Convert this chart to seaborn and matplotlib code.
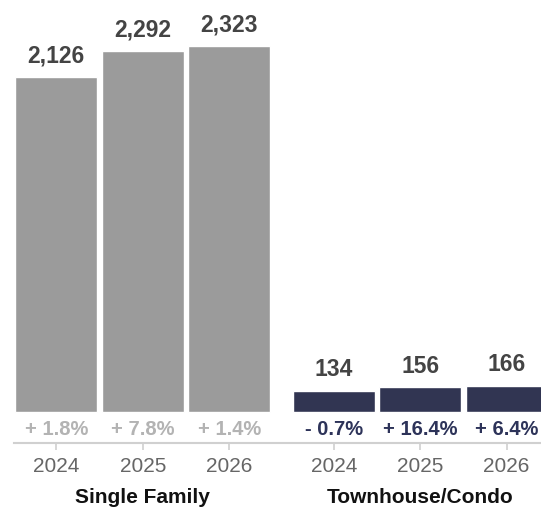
import matplotlib
matplotlib.use("Agg")
import matplotlib.pyplot as plt
import numpy as np
import pandas as pd
import seaborn as sns

years = ["2024", "2025", "2026"]
groups = ["Single Family", "Townhouse/Condo"]
single_family = [2126, 2292, 2323]
townhouse_condo = [134, 156, 166]
sf_change = ["+ 1.8%", "+ 7.8%", "+ 1.4%"]
tc_change = ["- 0.7%", "+ 16.4%", "+ 6.4%"]

bar_colors = {"Single Family": "#9b9b9b", "Townhouse/Condo": "#2b3157"}
change_colors = {"Single Family": "#b3b3b3", "Townhouse/Condo": "#2d3359"}

# positions: second group sits a bit further away than one slot
group_offset = {"Single Family": 0.0, "Townhouse/Condo": 3.21}

rows = []
for g, vals, chg in [(groups[0], single_family, sf_change), (groups[1], townhouse_condo, tc_change)]:
    for i, (yr, v, c) in enumerate(zip(years, vals, chg)):
        rows.append({"group": g, "year": yr, "value": v, "change": c, "pos": i + group_offset[g]})
df = pd.DataFrame(rows)

sns.set_theme(style="white")
plt.rcParams["font.family"] = ["Liberation Sans", "DejaVu Sans"]

fig = plt.figure(figsize=(5.41, 5.09), dpi=100)
ax = fig.add_axes([14 / 541, 1 - 443 / 509, 1 - 14 / 541, 443 / 509])

sns.barplot(data=df, x="pos", y="value", hue="group", palette=bar_colors,
            native_scale=True, dodge=False, width=0.95, legend=False, ax=ax)

ax.set_xlim(-0.49, 5.607)
ax.set_ylim(-197, 2614)

for _, r in df.iterrows():
    ax.annotate(f"{r['value']:,}", (r["pos"], r["value"]), xytext=(0, 7),
                textcoords="offset points", ha="center", va="bottom",
                fontsize=16.5, fontweight="bold", color="#444444")
    ax.text(r["pos"], -114, r["change"], ha="center", va="center",
            fontsize=14.5, fontweight="bold", color=change_colors[r["group"]])

ax.set_xticks(df["pos"])
ax.set_xticklabels(df["year"])
ax.tick_params(axis="x", length=5, width=1.2, color="#d0d0d0", labelsize=15,
               labelcolor="#666666", pad=5, bottom=True)
ax.set_yticks([])
ax.set_xlabel("")
ax.set_ylabel("")

for s in ["top", "left", "right"]:
    ax.spines[s].set_visible(False)
ax.spines["bottom"].set_color("#d0d0d0")
ax.spines["bottom"].set_linewidth(1.5)

for g in groups:
    ax.annotate(g, (1 + group_offset[g], -0.122), xycoords=("data", "axes fraction"),
                ha="center", va="center", fontsize=15, fontweight="bold",
                color="#111111", annotation_clip=False)

fig.savefig("out.png", dpi=100)
